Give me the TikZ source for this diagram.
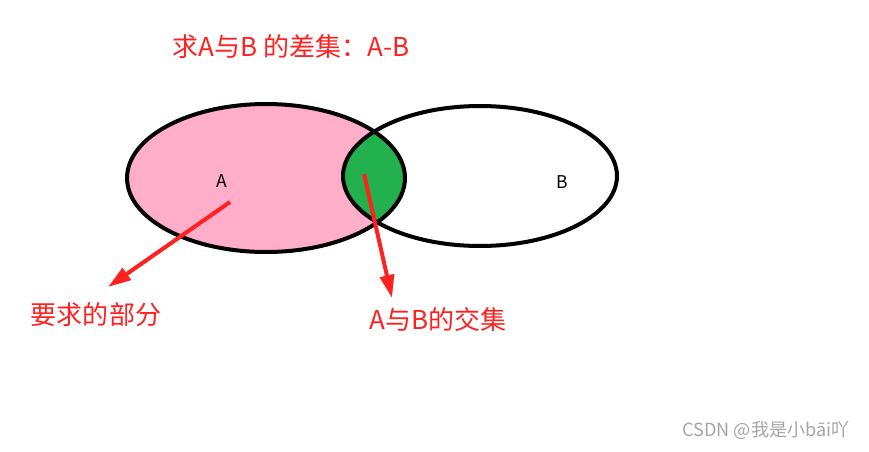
\documentclass[tikz,border=0pt]{standalone}
\usepackage{fontspec}
\setmainfont{Noto Sans CJK SC}
\usetikzlibrary{arrows.meta}
\definecolor{setpink}{RGB}{255,174,201}
\definecolor{setgreen}{RGB}{34,177,76}
\definecolor{notered}{RGB}{255,32,32}
\definecolor{markgray}{RGB}{165,165,165}

\begin{document}
\begin{tikzpicture}
[x=0.02cm,y=-0.02cm,
	setline/.style={line width=0.08cm},
	pointer/.style={notered,line width=0.08cm,-{Triangle[length=0.46cm,width=0.28cm]}},
	note/.style={text=notered,font=\fontsize{14.8}{17}\selectfont,inner sep=0pt},
	setname/.style={font=\fontsize{10}{12}\selectfont,inner sep=0pt}]
\useasboundingbox (0,0) rectangle (869,451);

% the two sets
\fill[setpink] (266,178) ellipse [x radius=2.78cm, y radius=1.48cm];
\begin{scope}
\clip (266,178) ellipse [x radius=2.78cm, y radius=1.48cm];
\fill[setgreen] (480,176) ellipse [x radius=2.74cm, y radius=1.40cm];
\end{scope}
\draw[setline] (266,178) ellipse [x radius=2.78cm, y radius=1.48cm];
\draw[setline] (480,176) ellipse [x radius=2.74cm, y radius=1.40cm];

\node[setname] (nameA) at (222,181) {A};
\node[setname] (nameB) at (562,182) {B};

% texts
\node[note] (title) at (291,47) {求A与B 的差集：A-B};
\node[note] (diff) at (96,315) {要求的部分};
\node[note] (common) at (438,320) {A与B的交集};
\node[text=markgray,font=\fontsize{10.3}{12}\selectfont,inner sep=0pt] (mark) at (766,431) {CSDN @我是小bāi吖};

% arrows
\coordinate (fromA) at (230,202);
\coordinate (toA) at (108,287);
\coordinate (fromAB) at (364,174);
\coordinate (toAB) at (392,298);
\draw[pointer] (fromA) -- (toA);
\draw[pointer] (fromAB) -- (toAB);
\end{tikzpicture}
\end{document}
